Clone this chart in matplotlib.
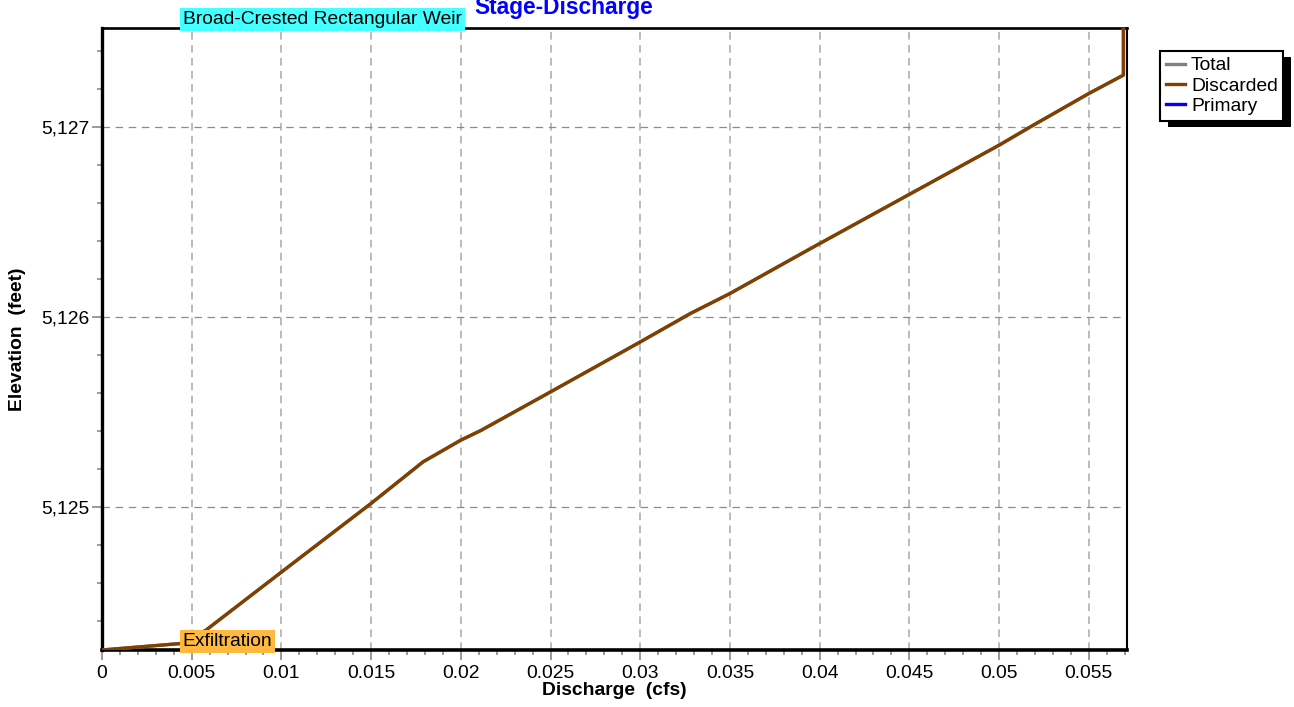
import numpy as np
import matplotlib.pyplot as plt
from matplotlib.ticker import MultipleLocator, FuncFormatter
from matplotlib.patches import Rectangle

plt.rcParams['font.family'] = ['Liberation Sans', 'DejaVu Sans']

# stage-discharge readings (cfs, feet)
discarded_q = [0.0, 0.0045, 0.0058, 0.0099, 0.0150, 0.0179, 0.0200, 0.0211, 0.0250,
               0.0300, 0.0328, 0.0350, 0.0395, 0.0400, 0.0449, 0.0500, 0.0519, 0.0550,
               0.05693, 0.05693]
discarded_elev = [5124.245, 5124.28, 5124.35, 5124.648, 5125.017, 5125.236, 5125.35, 5125.40,
                  5125.604, 5125.867, 5126.017, 5126.122, 5126.359, 5126.385, 5126.639,
                  5126.903, 5127.008, 5127.175, 5127.272, 5127.52]
total_q = discarded_q
total_elev = discarded_elev
primary_q = [0.0, 0.0]
primary_elev = [5124.245, 5127.52]

weir_elev = 5127.52
exfil_elev = 5124.245
q_max = 0.05713

fs = 13.9

fig = plt.figure(figsize=(12.94, 7.07), dpi=100)
ax = fig.add_axes([102/1294, 1-650/707, 1025/1294, 622/707])

l_prim, = ax.plot(primary_q, primary_elev, color='#0000ff', lw=2, zorder=1)
l_tot, = ax.plot(total_q, total_elev, color='#808080', lw=2.4, zorder=3)
l_disc, = ax.plot(discarded_q, discarded_elev, color='#804000', lw=2.4, zorder=4)

ax.set_xlim(0, q_max)
ax.set_ylim(exfil_elev, weir_elev)

ax.xaxis.set_major_locator(MultipleLocator(0.005))
ax.xaxis.set_minor_locator(MultipleLocator(0.001))
ax.yaxis.set_major_locator(MultipleLocator(1))
ax.yaxis.set_minor_locator(MultipleLocator(0.2))
ax.xaxis.set_major_formatter(FuncFormatter(lambda v, p: '%g' % round(v, 4)))
ax.yaxis.set_major_formatter(FuncFormatter(lambda v, p: '{:,.0f}'.format(v)))

ax.tick_params(which='major', length=7, width=1.1, color='#808080', labelsize=fs, pad=2)
ax.tick_params(axis='x', which='major', pad=4)
ax.tick_params(which='minor', length=3.5, width=1.1, color='#808080')

for x in ax.get_xticks():
    if 0 < x < q_max:
        ax.axvline(x, color='#a8a8a8', lw=1.1, ls=(0, (5, 3.5)), zorder=0)
for y in ax.get_yticks():
    if exfil_elev < y < weir_elev:
        ax.axhline(y, color='#8c8c8c', lw=0.9, ls=(0, (6, 4.5)), zorder=0)

ax.spines['left'].set_linewidth(2.4)
ax.spines['bottom'].set_linewidth(2.6)
ax.spines['top'].set_linewidth(1.9)
ax.spines['right'].set_linewidth(1.5)

ax.set_xlabel('Discharge  (cfs)', fontsize=fs, fontweight='bold', labelpad=0)
ax.set_ylabel('Elevation  (feet)', fontsize=fs, fontweight='bold', labelpad=11)

ax.annotate('Broad-Crested Rectangular Weir', xy=(0.0045, weir_elev), xytext=(0, 6),
            textcoords='offset points', va='center', ha='left', fontsize=fs,
            bbox=dict(boxstyle='square,pad=0.15', fc='#44ffff', ec='none'),
            zorder=10, annotation_clip=False)
ax.annotate('Exfiltration', xy=(0.0045, exfil_elev), xytext=(0, 6),
            textcoords='offset points', va='center', ha='left', fontsize=fs,
            bbox=dict(boxstyle='square,pad=0.15', fc='#ffb940', ec='none'),
            zorder=10, annotation_clip=False)

# title sits partly above the top edge, as in the source chart
fig.text(564/1294, 1-14/707, 'Stage-Discharge', ha='center', va='baseline',
         fontsize=16.4, fontweight='bold', color='#0000ff')

leg = fig.legend([l_tot, l_disc, l_prim], ['Total', 'Discarded', 'Primary'],
                 loc='upper left', bbox_to_anchor=(1160/1294, 1-51/707),
                 fontsize=fs, handlelength=1.0, handletextpad=0.3, labelspacing=0.15,
                 borderpad=0.3, borderaxespad=0, fancybox=False, framealpha=1,
                 edgecolor='black')
leg.get_frame().set_linewidth(1.5)
for h in leg.get_lines():
    h.set_linewidth(2.4)

fig.canvas.draw()
bb = leg.get_window_extent()
shadow = Rectangle(((bb.x0 + 8) / 1294, (bb.y0 - 6) / 707), bb.width / 1294, bb.height / 707,
                   transform=fig.transFigure, fc='black', ec='none', zorder=4)
fig.patches.append(shadow)

fig.savefig('out.png', dpi=100)
